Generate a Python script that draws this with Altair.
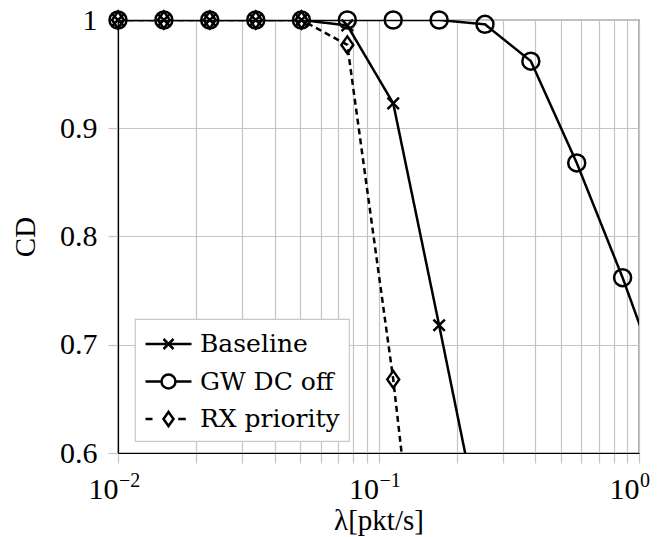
import altair as alt
import pandas as pd

# Packet arrival rate (pkt/s) and measured CD per scheme
lam = [0.01, 0.015, 0.0225, 0.0338, 0.0506, 0.0759, 0.1139, 0.1709,
       0.2563, 0.3844, 0.5767, 0.865, 1.2975]
baseline = [1.0, 1.0, 1.0, 1.0, 1.0, 0.995, 0.923, 0.718, 0.51]
gw_dc_off = [1.0, 1.0, 1.0, 1.0, 1.0, 1.0, 1.0, 1.0, 0.996, 0.962, 0.868,
             0.762, 0.645]
rx_priority = [1.0, 1.0, 1.0, 1.0, 1.0, 0.977, 0.668, 0.295]

series_names = ["Baseline", "GW DC off", "RX priority"]
series_values = [baseline, gw_dc_off, rx_priority]

# Axis ticks / labels
x_grid = [0.01, 0.02, 0.03, 0.04, 0.05, 0.06, 0.07, 0.08, 0.09,
          0.1, 0.2, 0.3, 0.4, 0.5, 0.6, 0.7, 0.8, 0.9, 1.0]
x_label_values = [0.01, 0.1, 1.0]
x_label_base = "10"
x_label_exponents = ["\u22122", "\u22121", "0"]
y_ticks = [0.6, 0.7, 0.8, 0.9, 1.0]
y_label_text = ["0.6", "0.7", "0.8", "0.9", "1"]

rows = []
for name, vals in zip(series_names, series_values):
    for i, v in enumerate(vals):
        rows.append({"series": name, "lam": lam[i], "cd": v, "idx": i})
df = pd.DataFrame(rows)
exp_df = pd.DataFrame({"lam": x_label_values, "exponent": x_label_exponents})

X_MIN, X_MAX = 0.01, 1.0
Y_MIN, Y_MAX = 0.6, 1.0
PLOT_W, PLOT_H = 521, 433

TICK_FONT = "Liberation Serif"
LEGEND_FONT = "DejaVu Serif"
GRID = "#c4c4c4"
LW = 2.5

x_expr = " || ".join(f"datum.value == {v}" for v in x_label_values)
x_expr = f"({x_expr}) ? '{x_label_base}' : ''"
y_expr = " : ".join(
    f"abs(datum.value - {v}) < 1e-6 ? '{t}'" for v, t in zip(y_ticks, y_label_text)
) + " : ''"

x_scale = alt.Scale(type="log", domain=[X_MIN, X_MAX], nice=False)
y_scale = alt.Scale(domain=[Y_MIN, Y_MAX], nice=False, zero=False)

x_axis = alt.Axis(
    values=x_grid, labelExpr=x_expr, labelOverlap=False, labelFlush=False,
    grid=True, gridColor=GRID, gridWidth=1.2,
    tickColor=GRID, tickSize=10, tickWidth=1.2,
    domainColor="black", domainWidth=1.2,
    labelFont=TICK_FONT, labelFontSize=30, labelColor="black",
    labelAlign="right", labelBaseline="alphabetic", labelPadding=35,
    title="\u03bb[pkt/s]", titleFont=TICK_FONT, titleFontSize=29,
    titleFontWeight="normal", titleColor="black",
    titleBaseline="alphabetic", titleY=76,
)
y_axis = alt.Axis(
    values=y_ticks, labelExpr=y_expr, labelOverlap=False, labelFlush=False,
    grid=True, gridColor=GRID, gridWidth=1.2,
    tickColor=GRID, tickSize=10, tickWidth=1.2,
    domainColor="black", domainWidth=1.2,
    labelFont=TICK_FONT, labelFontSize=30, labelColor="black", labelPadding=11,
    title="CD", titleFont=TICK_FONT, titleFontSize=29,
    titleFontWeight="normal", titleColor="black",
    titleBaseline="middle", titleX=-93, titleAngle=270,
)

X = alt.X("lam:Q", scale=x_scale, axis=x_axis)
Y = alt.Y("cd:Q", scale=y_scale, axis=y_axis)

dash_of = {"Baseline": [1, 0], "GW DC off": [1, 0], "RX priority": [6, 4]}


def curve(name):
    return (
        alt.Chart(df)
        .transform_filter(alt.datum.series == name)
        .mark_line(clip=True, color="black", strokeWidth=LW,
                   strokeDash=dash_of[name])
        .encode(x=X, y=Y, order="idx:Q")
    )


in_view = (alt.datum.lam <= X_MAX) & (alt.datum.cd >= Y_MIN)

cross_path = "M-1,-1L1,1M-1,1L1,-1"
diamond_path = "M0,-1L0.7,0L0,1L-0.7,0Z"


def markers(name, shape, size):
    return (
        alt.Chart(df)
        .transform_filter(alt.datum.series == name)
        .transform_filter(in_view)
        .mark_point(shape=shape, size=size, filled=False, color="black",
                    strokeWidth=LW, opacity=1)
        .encode(x=X, y=Y)
    )


pts_base = markers("Baseline", cross_path, 130)
pts_gw = markers("GW DC off", "circle", 289)
pts_rx = markers("RX priority", diamond_path, 289)

# Decade exponents, set as superscripts next to the "10" tick labels
exponents = alt.Chart(exp_df).mark_text(
    align="left", baseline="alphabetic", dx=1, font=TICK_FONT, fontSize=20,
    color="black", clip=False,
).encode(x=X, y=alt.value(PLOT_H + 34), text="exponent:N")

# Legend symbols: line segment with the marker in its middle (unit = 14.5px)
legend_paths = [
    "M-1,0L2.172,0M0.241,-0.345L0.931,0.345M0.241,0.345L0.931,-0.345",
    "M-1,0L0.103,0M1.069,0L2.172,0"
    "M1.069,0A0.483,0.483 0 1 1 0.103,0A0.483,0.483 0 1 1 1.069,0",
    "M-1,0L-0.517,0M1.255,0L1.779,0"
    "M0.586,-0.483L0.931,0L0.586,0.483L0.241,0Z",
]

legend_df = pd.DataFrame({"scheme": series_names})
legend_layer = alt.Chart(legend_df).mark_point(
    filled=False, color="black", strokeWidth=LW, opacity=1, size=841, clip=True
).encode(
    x=alt.value(-200), y=alt.value(-200),
    shape=alt.Shape(
        "scheme:N",
        scale=alt.Scale(domain=series_names, range=legend_paths),
        legend=alt.Legend(
            title=None, orient="none", legendX=17, legendY=299,
            padding=9, rowPadding=8.5, symbolSize=841,
            symbolStrokeColor="black", symbolStrokeWidth=LW,
            symbolFillColor="transparent", symbolOpacity=1,
            labelFont=LEGEND_FONT, labelFontSize=25, labelColor="black",
            labelOffset=24, labelLimit=400,
            fillColor="white", strokeColor="#c8c8c8",
            cornerRadius=0,
        ),
    ),
)

chart = (
    alt.layer(
        curve("Baseline"), curve("GW DC off"), curve("RX priority"),
        pts_base, pts_gw, pts_rx, exponents, legend_layer,
    )
    .properties(
        width=PLOT_W, height=PLOT_H,
        autosize=alt.AutoSizeParams(type="none"),
        padding={"left": 118, "top": 20, "right": 23, "bottom": 84},
        background="white",
    )
    .configure_view(stroke="black", strokeWidth=1.2)
    .configure_legend(strokeWidth=1.2)
)

chart.save("out.html", embed_options={"renderer": "svg", "actions": False})
